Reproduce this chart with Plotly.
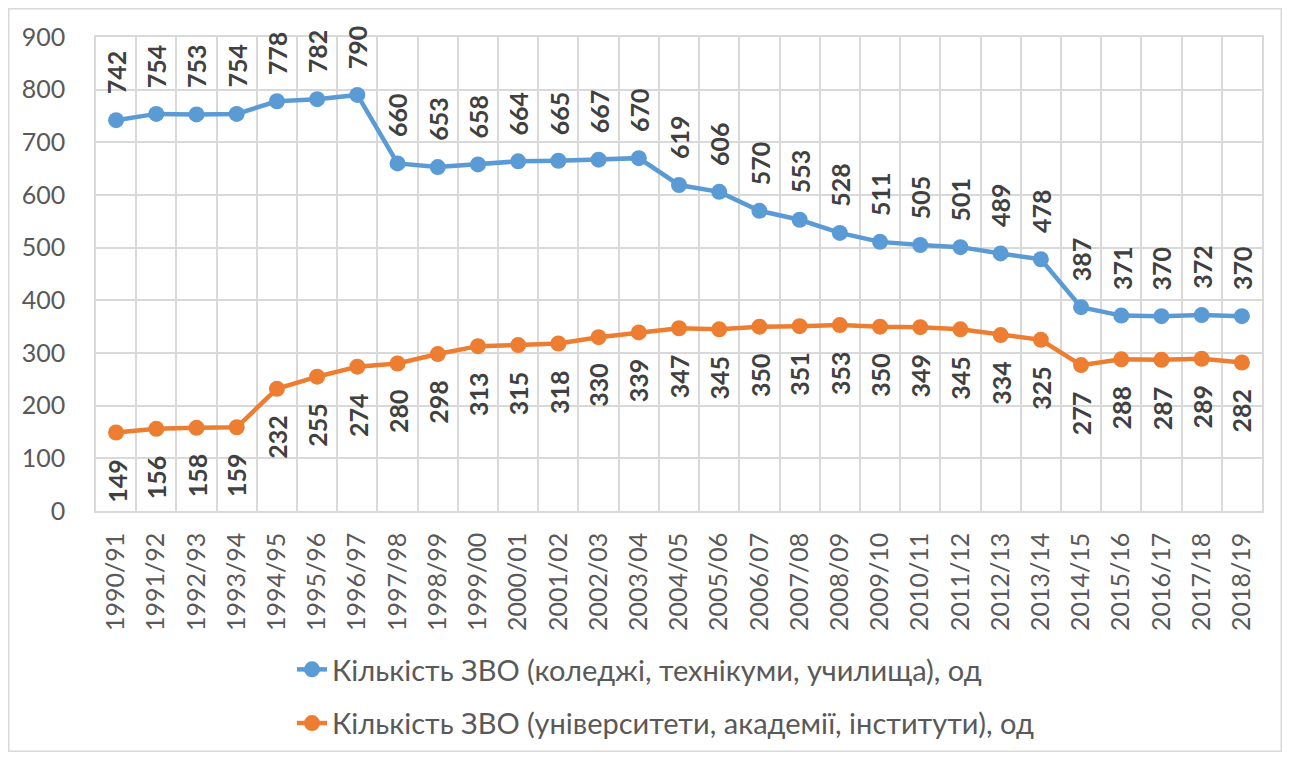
import plotly.graph_objects as go

years = ["1990/91","1991/92","1992/93","1993/94","1994/95","1995/96","1996/97","1997/98",
         "1998/99","1999/00","2000/01","2001/02","2002/03","2003/04","2004/05","2005/06",
         "2006/07","2007/08","2008/09","2009/10","2010/11","2011/12","2012/13","2013/14",
         "2014/15","2015/16","2016/17","2017/18","2018/19"]
colleges = [742,754,753,754,778,782,790,660,653,658,664,665,667,670,619,606,570,553,528,
            511,505,501,489,478,387,371,370,372,370]
universities = [149,156,158,159,232,255,274,280,298,313,315,318,330,339,347,345,350,351,353,
                350,349,345,334,325,277,288,287,289,282]
name_col = "Кількість ЗВО (коледжі, технікуми, училища), од"
name_uni = "Кількість ЗВО (університети, академії, інститути), од"

BLUE = "#5B9BD5"
ORANGE = "#ED7D31"
FONT = "Lato"

W, H = 1274, 744
L, R, T, B = 88, 20, 29, 241
PW, PH = W - L - R, H - T - B

fig = go.Figure()
fig.add_trace(go.Scatter(x=years, y=colleges, name=name_col, mode="lines+markers", legendgroup="a",
                         line=dict(color=BLUE, width=4.5), marker=dict(size=16, color=BLUE)))
fig.add_trace(go.Scatter(x=years, y=universities, name=name_uni, mode="lines+markers", legendgroup="b",
                         line=dict(color=ORANGE, width=4.5), marker=dict(size=16, color=ORANGE)))

annotations = []
for x, v in zip(years, colleges):
    annotations.append(dict(x=x, y=v, text=f"<b>{v}</b>", textangle=-90, showarrow=False,
                            yanchor="bottom", yshift=24,
                            font=dict(family=FONT, size=25, color="#404040")))
for x, v in zip(years, universities):
    annotations.append(dict(x=x, y=v, text=f"<b>{v}</b>", textangle=-90, showarrow=False,
                            yanchor="top", yshift=-24,
                            font=dict(family=FONT, size=25, color="#404040")))

fig.update_layout(
    width=W, height=H,
    margin=dict(l=L, r=R, t=T, b=B, autoexpand=False),
    paper_bgcolor="white", plot_bgcolor="white",
    font=dict(family=FONT, color="#595959"),
    annotations=annotations,
    showlegend=True,
    legend=dict(orientation="v", x=(284 - L) / PW, xanchor="left",
                y=(H - B - 636) / PH, yanchor="top",
                font=dict(family=FONT, size=29, color="#595959"),
                tracegroupgap=13, bgcolor="rgba(0,0,0,0)"),
    shapes=[dict(type="rect", xref="paper", yref="paper",
                 x0=(0.75 - L) / PW, x1=(W - 0.75 - L) / PW,
                 y0=(H - B - (H - 0.75)) / PH, y1=(H - B - 0.75) / PH,
                 line=dict(color="#D9D9D9", width=1.5), fillcolor="rgba(0,0,0,0)", layer="below")],
)
fig.update_xaxes(type="category", tickangle=-90, tickson="boundaries", showgrid=True,
                 gridcolor="#D9D9D9", gridwidth=1.5, showline=True, linecolor="#D9D9D9",
                 linewidth=1.5, mirror=True, ticks="", ticklabelstandoff=10,
                 tickfont=dict(family=FONT, size=25, color="#595959"),
                 range=[-0.5, len(years) - 0.5])
fig.update_yaxes(range=[0, 900], dtick=100, showgrid=True, gridcolor="#D9D9D9", gridwidth=1.5,
                 zeroline=False, showline=True, linecolor="#D9D9D9", linewidth=1.5, mirror=True,
                 ticks="", ticklabelstandoff=24, tickfont=dict(family=FONT, size=25, color="#595959"))

fig.write_html("out.html")
